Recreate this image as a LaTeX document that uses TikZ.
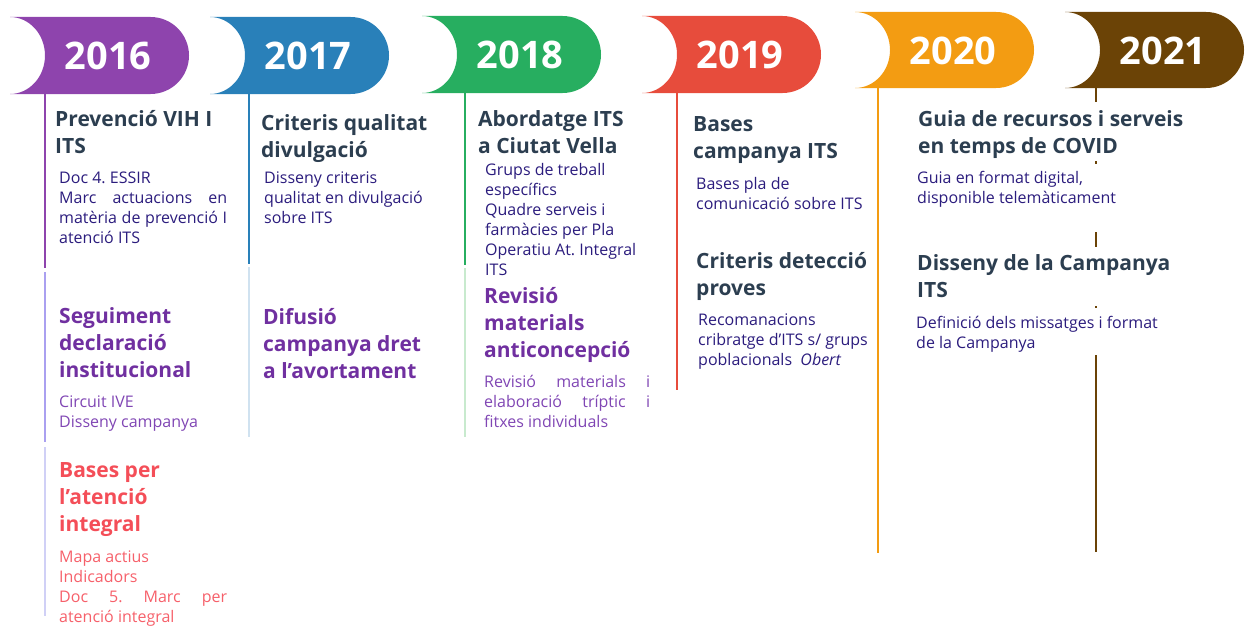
\documentclass[tikz,border=0pt]{standalone}
\usepackage{fontspec}
\setmainfont{Open Sans}
\frenchspacing
\definecolor{c16}{HTML}{8E44AD}
\definecolor{c17}{HTML}{2980B9}
\definecolor{c18}{HTML}{27AE60}
\definecolor{c19}{HTML}{E74C3C}
\definecolor{c20}{HTML}{F39C12}
\definecolor{c21}{RGB}{107,67,6}
\definecolor{lav}{RGB}{170,160,240}
\definecolor{palelav}{RGB}{208,208,246}
\definecolor{paleblue}{RGB}{208,226,240}
\definecolor{palegreen}{RGB}{200,234,206}
\definecolor{headdark}{HTML}{2C3E50}
\definecolor{bodynavy}{RGB}{43,28,125}
\definecolor{purph}{HTML}{7030A0}
\definecolor{purpb}{RGB}{128,70,180}
\definecolor{redh}{RGB}{244,78,88}
\definecolor{redb}{RGB}{246,96,106}
\newcommand{\justline}[2]{\makebox[#1pt][s]{#2}}
\newcommand{\yeartab}[5]{%
  \pgfmathsetmacro\tabr{(#3-#2)/2}%
  \pgfmathsetmacro\tabm{(#2+#3)/2}%
  \fill[#4] (#1,#2) -- ({#1+179-\tabr},#2) arc[start angle=-90,end angle=90,radius=\tabr]
     -- (#1,#3) arc[start angle=90,end angle=-90,x radius=35,y radius=\tabr] -- cycle;
  \node[yeartext] (y#5) at ({#1+98},{\tabm+0.5}) {#5};
}
\tikzset{
  yeartext/.style={text=white, font=\bfseries\fontsize{38}{40}\selectfont, inner sep=0pt},
  head/.style={anchor=base west, align=left, inner sep=0pt, font=\bfseries\fontsize{21}{27}\selectfont, text=headdark},
  body/.style={anchor=base west, align=left, inner sep=0pt, font=\fontsize{16}{20}\selectfont, text=bodynavy},
  vline/.style={line width=2pt},
}
\begin{document}
\begin{tikzpicture}[x=1pt,y=-1pt]
\useasboundingbox (0,0) rectangle (1247,626);
% tabs
\yeartab{10}{17}{94}{c16}{2016}
\yeartab{210}{17}{94}{c17}{2017}
\yeartab{422}{16}{93}{c18}{2018}
\yeartab{642}{16}{93}{c19}{2019}
\yeartab{855}{12}{88}{c20}{2020}
\yeartab{1065}{12}{88}{c21}{2021}
% vertical lines
\draw[vline,c16] (44.5,94) -- (44.5,268);
\draw[vline,lav] (44.5,272) -- (44.5,442);
\draw[vline,palelav] (44.5,447) -- (44.5,616);
\draw[vline,c17] (249,94) -- (249,264);
\draw[vline,paleblue] (249,267) -- (249,437);
\draw[vline,c18] (465,93) -- (465,265);
\draw[vline,palegreen] (465,268) -- (465,437);
\draw[vline,c19] (677,93) -- (677,390);
\draw[vline,c20] (878,88) -- (878,553);
\draw[vline,c21] (1096,88) -- (1096,102);
\draw[vline,c21] (1096,161) -- (1096,164);
\draw[vline,c21] (1096,232) -- (1096,247);
\draw[vline,c21] (1096,306) -- (1096,308);
\draw[vline,c21] (1096,355) -- (1096,552);
% 2016 (positions are last-line baselines)
\node[head] (h16a) at (55,153) {Prevenció VIH I\\ITS};
\node[body] (b16a) at (59,243.5) {Doc 4. ESSIR\\\justline{168}{Marc actuacions en}\\\justline{168}{matèria de prevenció I}\\atenció ITS};
\node[head,text=purph] (h16b) at (59,377) {Seguiment\\declaració\\institucional};
\node[body,text=purpb] (b16b) at (59,427.5) {Circuit IVE\\Disseny campanya};
\node[head,text=redh] (h16c) at (59,531) {Bases per\\l’atenció\\integral};
\node[body,text=redb] (b16c) at (59,622) {Mapa actius\\Indicadors\\\justline{168}{Doc 5. Marc per}\\atenció integral};
% 2017
\node[head] (h17a) at (261,157) {Criteris qualitat\\divulgació};
\node[body] (b17a) at (264,223) {Disseny criteris\\qualitat en divulgació\\sobre ITS};
\node[head,text=purph] (h17b) at (263,378) {Difusió\\campanya dret\\a l’avortament};
% 2018
\node[head] (h18a) at (478,153) {Abordatge ITS\\a Ciutat Vella};
\node[body] (b18a) at (485,275) {Grups de treball\\específics\\Quadre serveis i\\farmàcies per Pla\\Operatiu At. Integral\\ITS};
\node[head,text=purph] (h18b) at (484,357) {Revisió\\materials\\anticoncepció};
\node[body,text=purpb] (b18b) at (484,427.5) {\justline{166}{Revisió materials i}\\\justline{166}{elaboració tríptic i}\\fitxes individuals};
% 2019
\node[head] (h19a) at (693,158) {Bases\\campanya ITS};
\node[body] (b19a) at (696,209.5) {Bases pla de\\comunicació sobre ITS};
\node[head] (h19b) at (696,295) {Criteris detecció\\proves};
\node[body] (b19b) at (698,365.5) {Recomanacions\\cribratge d’ITS s/ grups\\poblacionals\ \ \textit{Obert}};
% 2020
\node[head] (h20a) at (918,153) {Guia de recursos i serveis\\en temps de COVID};
\node[body] (b20a) at (917,203.5) {Guia en format digital,\\disponible telemàticament};
\node[head] (h20b) at (917,297) {Disseny de la Campanya\\ITS};
\node[body] (b20b) at (916,348) {Definició dels missatges i format\\de la Campanya};
\end{tikzpicture}
\end{document}
